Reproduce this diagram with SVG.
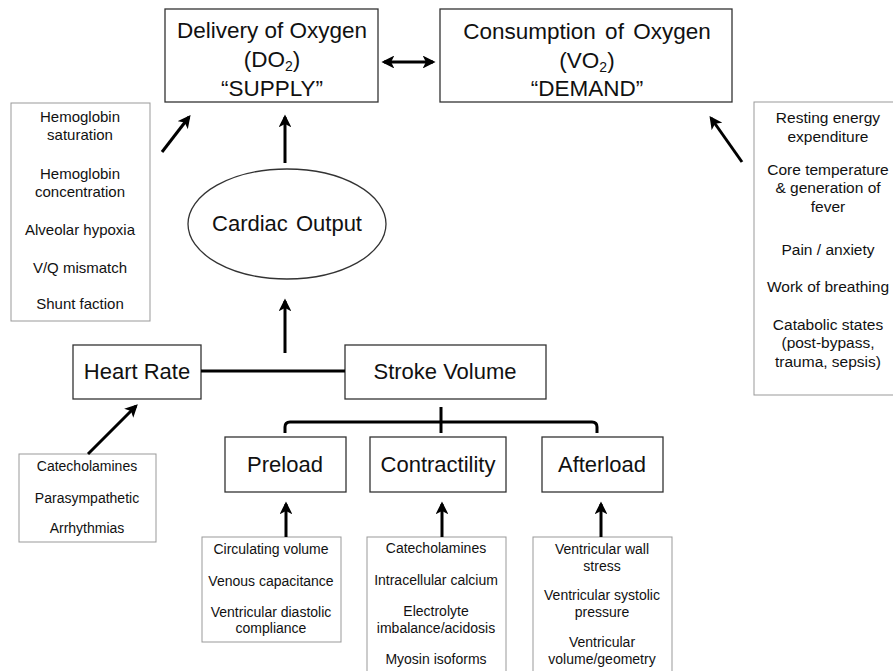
<svg xmlns="http://www.w3.org/2000/svg" width="893" height="671" viewBox="0 0 893 671">
<style>
  text { font-family: "Liberation Sans", Arial, sans-serif; fill: #111; text-anchor: middle; }
  .main { font-size: 22px; }
  .big { font-size: 22.5px; }
  .f15 { font-size: 15px; }
  .f155 { font-size: 15.5px; }
  .f14 { font-size: 14px; }
  .box { fill: #fff; stroke: #333; stroke-width: 1.3; }
  .fbox { fill: #fff; stroke: #999; stroke-width: 1; }
  .conn { fill: none; stroke: #000; stroke-width: 3; }
  .arr { fill: none; stroke: #000; stroke-width: 3; marker-end: url(#ah); }
</style>
<defs>
  <marker id="ah" viewBox="0 0 10 10" refX="8" refY="5" markerWidth="4.3" markerHeight="4.3" orient="auto" markerUnits="strokeWidth">
    <path d="M0,0 L10,5 L0,10 L2.5,5 z" fill="#000"/>
  </marker>
  <marker id="as" viewBox="0 0 10 10" refX="8" refY="5" markerWidth="4.3" markerHeight="4.3" orient="auto-start-reverse" markerUnits="strokeWidth">
    <path d="M0,0 L10,5 L0,10 L2.5,5 z" fill="#000"/>
  </marker>
</defs>
<rect width="893" height="671" fill="#fff"/>

<g id="delivery">
  <rect class="box" x="165" y="9" width="213" height="93"/>
  <text class="big" x="272" y="38">Delivery of Oxygen</text>
  <text class="big" x="272" y="67">(DO<tspan font-size="14" dy="4">2</tspan><tspan dy="-4">)</tspan></text>
  <text class="big" x="272" y="96">“SUPPLY”</text>
</g>
<g id="consumption">
  <rect class="box" x="440" y="9" width="292" height="93"/>
  <text class="big" x="587" y="39" word-spacing="3">Consumption of Oxygen</text>
  <text class="big" x="587" y="68">(VO<tspan font-size="14" dy="4">2</tspan><tspan dy="-4">)</tspan></text>
  <text class="big" x="587" y="96">“DEMAND”</text>
</g>
<g id="supply-factors">
  <rect class="fbox" x="11" y="103" width="139" height="218"/>
  <text class="f15" x="80" y="122">Hemoglobin</text>
  <text class="f15" x="80" y="140">saturation</text>
  <text class="f15" x="80" y="179">Hemoglobin</text>
  <text class="f15" x="80" y="197">concentration</text>
  <text class="f15" x="80" y="235">Alveolar hypoxia</text>
  <text class="f15" x="80" y="273">V/Q mismatch</text>
  <text class="f15" x="80" y="309">Shunt faction</text>
</g>
<g id="demand-factors">
  <rect class="fbox" x="754" y="102" width="145" height="293"/>
  <text class="f155" x="828" y="123">Resting energy</text>
  <text class="f155" x="828" y="142">expenditure</text>
  <text class="f155" x="828" y="175">Core temperature</text>
  <text class="f155" x="828" y="193">&amp; generation of</text>
  <text class="f155" x="828" y="212">fever</text>
  <text class="f155" x="828" y="255">Pain / anxiety</text>
  <text class="f155" x="828" y="292">Work of breathing</text>
  <text class="f155" x="828" y="330">Catabolic states</text>
  <text class="f155" x="828" y="348">(post-bypass,</text>
  <text class="f155" x="828" y="367">trauma, sepsis)</text>
</g>
<g id="cardiac-output">
  <ellipse cx="287" cy="224" rx="99" ry="55" fill="#fff" stroke="#333" stroke-width="1.3"/>
  <text class="main" x="287" y="231" word-spacing="2">Cardiac Output</text>
</g>
<g id="heart-rate">
  <rect class="box" x="73" y="345" width="128" height="54"/>
  <text class="main" x="137" y="379">Heart Rate</text>
</g>
<g id="stroke-volume">
  <rect class="box" x="345" y="345" width="201" height="54"/>
  <text class="main" x="445" y="379">Stroke Volume</text>
</g>
<g id="hr-factors">
  <rect class="fbox" x="19" y="454" width="137" height="88"/>
  <text class="f14" x="87" y="471">Catecholamines</text>
  <text class="f14" x="87" y="503">Parasympathetic</text>
  <text class="f14" x="87" y="533">Arrhythmias</text>
</g>
<g id="preload">
  <rect class="box" x="225" y="437" width="121" height="55"/>
  <text class="main" x="285" y="472">Preload</text>
</g>
<g id="contractility">
  <rect class="box" x="370" y="437" width="136" height="55"/>
  <text class="main" x="438" y="472">Contractility</text>
</g>
<g id="afterload">
  <rect class="box" x="542" y="437" width="121" height="55"/>
  <text class="main" x="602" y="472">Afterload</text>
</g>
<g id="preload-factors">
  <rect class="fbox" x="202" y="537" width="139" height="105"/>
  <text class="f14" x="271" y="554">Circulating volume</text>
  <text class="f14" x="271" y="586">Venous capacitance</text>
  <text class="f14" x="271" y="617">Ventricular diastolic</text>
  <text class="f14" x="271" y="633">compliance</text>
</g>
<g id="contractility-factors">
  <rect class="fbox" x="367" y="537" width="139" height="150"/>
  <text class="f14" x="436" y="553">Catecholamines</text>
  <text class="f14" x="436" y="585">Intracellular calcium</text>
  <text class="f14" x="436" y="616">Electrolyte</text>
  <text class="f14" x="436" y="633">imbalance/acidosis</text>
  <text class="f14" x="436" y="664">Myosin isoforms</text>
</g>
<g id="afterload-factors">
  <rect class="fbox" x="533" y="537" width="139" height="150"/>
  <text class="f14" x="602" y="554">Ventricular wall</text>
  <text class="f14" x="602" y="571">stress</text>
  <text class="f14" x="602" y="600">Ventricular systolic</text>
  <text class="f14" x="602" y="617">pressure</text>
  <text class="f14" x="602" y="647">Ventricular</text>
  <text class="f14" x="602" y="664">volume/geometry</text>
</g>

<g id="connectors">
  <line class="conn" x1="384" y1="62" x2="433" y2="62" marker-start="url(#as)" marker-end="url(#ah)"/>
  <line class="arr" x1="162" y1="152" x2="189" y2="117"/>
  <line class="arr" x1="285" y1="163" x2="285" y2="117"/>
  <line class="arr" x1="742" y1="162" x2="711" y2="118"/>
  <line class="arr" x1="285" y1="353" x2="285" y2="301"/>
  <line class="conn" x1="201" y1="371" x2="345" y2="371"/>
  <path class="conn" d="M285,433 L285,427 Q285,422 290,422 L592,422 Q597,422 597,427 L597,433"/>
  <line class="conn" x1="441" y1="407" x2="441" y2="433"/>
  <line class="arr" x1="88" y1="454" x2="136" y2="406"/>
  <line class="arr" x1="286" y1="537" x2="286" y2="504"/>
  <line class="arr" x1="442" y1="537" x2="442" y2="504"/>
  <line class="arr" x1="601" y1="537" x2="601" y2="504"/>
</g>
</svg>
